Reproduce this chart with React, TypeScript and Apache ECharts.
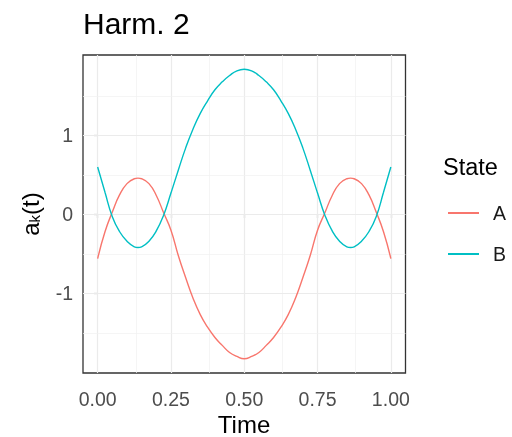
import React, { useEffect, useRef } from 'react';
import * as echarts from 'echarts';

const timePoints = [
  0, 0.025, 0.05, 0.075, 0.1, 0.125, 0.1375, 0.15, 0.175, 0.2, 0.225, 0.25, 0.275, 0.3, 0.325, 0.35, 0.375, 0.4, 0.425, 0.45, 0.475, 0.5,
  0.525, 0.55, 0.575, 0.6, 0.625, 0.65, 0.675, 0.7, 0.725, 0.75, 0.775, 0.8, 0.825, 0.85, 0.8625, 0.875, 0.9, 0.925, 0.95, 0.975, 1,
];
const stateA = [
  -0.56, -0.22, 0.03, 0.25, 0.39, 0.452, 0.46, 0.452, 0.39, 0.24, 0.02, -0.2, -0.52, -0.8, -1.06, -1.27, -1.43, -1.56, -1.66, -1.75, -1.8, -1.83,
  -1.8, -1.75, -1.66, -1.56, -1.43, -1.27, -1.06, -0.8, -0.52, -0.2, 0.02, 0.24, 0.39, 0.452, 0.46, 0.452, 0.39, 0.25, 0.03, -0.22, -0.56,
];
const stateB = [
  0.6, 0.28, -0.03, -0.22, -0.34, -0.411, -0.42, -0.411, -0.34, -0.21, -0.01, 0.27, 0.56, 0.84, 1.08, 1.28, 1.44, 1.58, 1.68, 1.76, 1.82, 1.84,
  1.82, 1.76, 1.68, 1.58, 1.44, 1.28, 1.08, 0.84, 0.56, 0.27, -0.01, -0.21, -0.34, -0.411, -0.42, -0.411, -0.34, -0.22, -0.03, 0.28, 0.6,
];
const seriesNames = ['A', 'B'];
const seriesColors = ['#F8766D', '#00BFC4'];
const xTicks = [0, 0.25, 0.5, 0.75, 1];
const yTicks = [-1, 0, 1];
const xMinorGrid = [0.125, 0.375, 0.625, 0.875];
const yMinorGrid = [-1.5, -0.5, 0.5, 1.5];
const titleText = 'Harm. 2';
const xTitle = 'Time';
const legendTitle = 'State';

const FONT = '"Liberation Sans", Arial, sans-serif';

export default function App() {
  const ref = useRef<HTMLDivElement>(null);
  useEffect(() => {
    if (!ref.current) return;
    const chart = echarts.init(ref.current, undefined, { renderer: 'svg' });
    const major = { color: '#EBEBEB', width: 1.2, type: 'solid' };
    const minor = { color: '#F1F1F1', width: 0.7, type: 'solid' };
    const gridLines = [
      ...xTicks.map((v) => ({ xAxis: v, lineStyle: major })),
      ...xMinorGrid.map((v) => ({ xAxis: v, lineStyle: minor })),
      ...yTicks.map((v) => ({ yAxis: v, lineStyle: major })),
      ...yMinorGrid.map((v) => ({ yAxis: v, lineStyle: minor })),
    ];
    const dataSets = [stateA, stateB];
    chart.setOption({
      animation: false,
      title: [
        {
          text: titleText,
          left: 83,
          top: 8,
          padding: 0,
          textStyle: { fontFamily: FONT, fontSize: 30, fontWeight: 'normal', color: '#000' },
        },
        {
          text: legendTitle,
          left: 443,
          top: 155,
          padding: 0,
          textStyle: { fontFamily: FONT, fontSize: 23.5, fontWeight: 'normal', color: '#000' },
        },
      ],
      grid: {
        left: 83,
        right: 106.5,
        top: 55,
        bottom: 64,
        show: true,
        borderColor: '#333333',
        borderWidth: 1.3,
        backgroundColor: '#fff',
      },
      legend: {
        data: seriesNames,
        orient: 'vertical',
        left: 447,
        top: 203,
        itemWidth: 31,
        itemHeight: 20,
        itemGap: 21,
        padding: 0,
        itemStyle: { opacity: 0 },
        textStyle: { fontFamily: FONT, fontSize: 19.5, color: '#1A1A1A', padding: [0, 0, 0, 9], lineHeight: 20 },
      },
      xAxis: {
        type: 'value',
        min: -0.05,
        max: 1.05,
        axisLine: { show: false },
        splitLine: { show: false },
        axisTick: { show: true, customValues: xTicks, length: 4, lineStyle: { color: '#333333', width: 1.1 } },
        axisLabel: {
          customValues: xTicks,
          formatter: (v: number) => v.toFixed(2),
          color: '#4D4D4D',
          fontFamily: FONT,
          fontSize: 19.5,
          margin: 16,
        },
      },
      yAxis: {
        type: 'value',
        min: -2.01,
        max: 2.02,
        axisLine: { show: false },
        splitLine: { show: false },
        axisTick: { show: true, customValues: yTicks, length: 4, lineStyle: { color: '#333333', width: 1.1 } },
        axisLabel: {
          customValues: yTicks,
          formatter: (v: number) => String(v),
          color: '#4D4D4D',
          fontFamily: FONT,
          fontSize: 19.5,
          margin: 10,
        },
      },
      graphic: [
        {
          type: 'text',
          x: 244,
          y: 424,
          style: { text: xTitle, fontFamily: FONT, fontSize: 24, fill: '#000', align: 'center', verticalAlign: 'middle' },
        },
        {
          type: 'text',
          x: 30,
          y: 214,
          rotation: Math.PI / 2,
          style: {
            text: '{m|a}{s|k}{m|(t)}',
            align: 'center',
            verticalAlign: 'middle',
            rich: {
              m: { fontFamily: FONT, fontSize: 24, fill: '#000', lineHeight: 24 },
              s: { fontFamily: FONT, fontSize: 15, fill: '#000', lineHeight: 2, verticalAlign: 'bottom' },
            },
          },
        },
      ],
      series: [
        {
          type: 'line',
          data: [],
          silent: true,
          z: 1,
          markLine: { silent: true, z: 1, symbol: ['none', 'none'], label: { show: false }, data: gridLines },
        },
        ...seriesNames.map((name, i) => ({
          name,
          type: 'line',
          data: timePoints.map((t, j) => [t, dataSets[i][j]]),
          showSymbol: false,
          symbol: 'none',
          smooth: 0.5,
          z: 3,
          lineStyle: { color: seriesColors[i], width: 1.4 },
          itemStyle: { color: seriesColors[i] },
        })),
      ],
    });
    return () => chart.dispose();
  }, []);
  return <div ref={ref} style={{ position: 'fixed', left: 0, top: 0, width: 512, height: 437 }} />;
}
